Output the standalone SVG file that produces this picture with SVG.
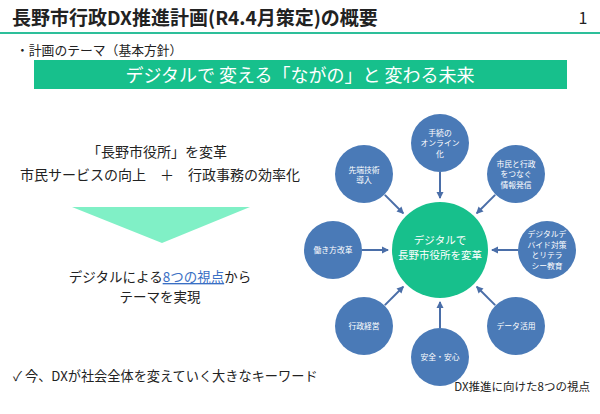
<svg xmlns="http://www.w3.org/2000/svg" width="600" height="414" viewBox="0 0 600 414">
<style>
text{font-family:"Noto Sans CJK JP","Noto Sans",sans-serif;}
.node{fill:#4a7ab7;}
.nt{fill:#ffffff;font-size:7.8px;text-anchor:middle;}
.conn{stroke:#4a6ea8;stroke-width:2;fill:none;marker-end:url(#ah);}
.dark{fill:#222222;}
</style>
<defs>
<marker id="ah" markerWidth="8" markerHeight="8" refX="6" refY="4" orient="auto" markerUnits="userSpaceOnUse">
<path d="M0,0.5 L7,4 L0,7.5 z" fill="#4a6ea8"/>
</marker>
</defs>
<rect width="600" height="414" fill="#ffffff"/>
<g id="header">
<text x="12" y="25" class="dark" font-size="19" font-weight="bold">長野市行政DX推進計画(R4.4月策定)の概要</text>
<text x="583" y="24" class="dark" font-size="16" text-anchor="middle">1</text>
<rect x="0" y="32" width="600" height="2" fill="#2dbf9a"/>
</g>
<text x="16" y="55" class="dark" font-size="12.8">・計画のテーマ（基本方針）</text>
<g id="theme-bar">
<rect x="34" y="60" width="533" height="29" fill="#17c08c"/>
<text x="300" y="82" fill="#ffffff" font-size="18" text-anchor="middle">デジタルで 変える「ながの」と 変わる未来</text>
</g>
<g id="left-panel">
<text x="157" y="157" class="dark" font-size="14" text-anchor="middle">「長野市役所」を変革</text>
<text x="160" y="180" class="dark" font-size="14" text-anchor="middle">市民サービスの向上　＋　行政事務の効率化</text>
<polygon points="72,207 250,207 162,243" fill="#80f0c6"/>
<text x="160" y="282" class="dark" font-size="13.5" text-anchor="middle">デジタルによる<tspan fill="#3a6fc4" text-decoration="underline">8つの視点</tspan>から</text>
<text x="160" y="302" class="dark" font-size="13.5" text-anchor="middle">テーマを実現</text>
</g>
<text x="13" y="381" class="dark" font-size="13.2">✓ 今、DXが社会全体を変えていく大きなキーワード</text>
<text x="590" y="391" class="dark" font-size="11.5" text-anchor="end">DX推進に向けた8つの視点</text>
<g id="connectors">
<line class="conn" x1="440" y1="172" x2="440" y2="198"/>
<line class="conn" x1="440" y1="328" x2="440" y2="302"/>
<line class="conn" x1="362" y1="250" x2="388" y2="250"/>
<line class="conn" x1="518" y1="250" x2="492" y2="250"/>
<line class="conn" x1="384.85" y1="194.85" x2="403.23" y2="213.23"/>
<line class="conn" x1="495.15" y1="194.85" x2="476.77" y2="213.23"/>
<line class="conn" x1="384.85" y1="305.15" x2="403.23" y2="286.77"/>
<line class="conn" x1="495.15" y1="305.15" x2="476.77" y2="286.77"/>
</g>
<g id="center">
<circle cx="440" cy="250" r="48" fill="#17c08c"/>
<text x="440" y="244" fill="#ffffff" font-size="10.5" text-anchor="middle">デジタルで</text>
<text x="440" y="259" fill="#ffffff" font-size="10.5" text-anchor="middle">長野市役所を変革</text>
</g>
<g id="n-online">
<circle class="node" cx="440" cy="143" r="29"/>
<text class="nt" x="440" y="135.5">手続の</text>
<text class="nt" x="440" y="146">オンライン</text>
<text class="nt" x="440" y="156.5">化</text>
</g>
<g id="n-sentan">
<circle class="node" cx="364" cy="174" r="29"/>
<text class="nt" x="364" y="172.5">先端技術</text>
<text class="nt" x="364" y="183">導入</text>
</g>
<g id="n-joho">
<circle class="node" cx="516" cy="174" r="29"/>
<text class="nt" x="516" y="166.5">市民と行政</text>
<text class="nt" x="516" y="177">をつなぐ</text>
<text class="nt" x="516" y="187.5">情報発信</text>
</g>
<g id="n-hataraki">
<circle class="node" cx="333" cy="250" r="29"/>
<text class="nt" x="333" y="253">働き方改革</text>
</g>
<g id="n-divide">
<circle class="node" cx="547" cy="250" r="29"/>
<text class="nt" x="547" y="237">デジタルデ</text>
<text class="nt" x="547" y="247.5">バイド対策</text>
<text class="nt" x="547" y="258">とリテラ</text>
<text class="nt" x="547" y="268.5">シー教育</text>
</g>
<g id="n-keiei">
<circle class="node" cx="364" cy="326" r="29"/>
<text class="nt" x="364" y="329">行政経営</text>
</g>
<g id="n-data">
<circle class="node" cx="516" cy="326" r="29"/>
<text class="nt" x="516" y="329">データ活用</text>
</g>
<g id="n-anzen">
<circle class="node" cx="440" cy="357" r="29"/>
<text class="nt" x="440" y="360">安全・安心</text>
</g>
</svg>
